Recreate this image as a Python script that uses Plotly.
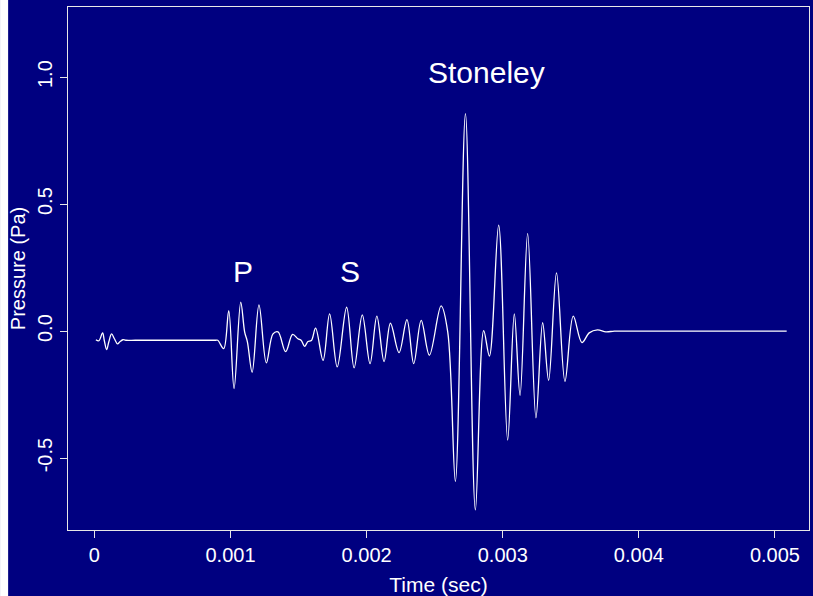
import plotly.graph_objects as go

# Time (milliseconds) and pressure (Pa)
time_ms = [0.011, 0.033, 0.060, 0.073, 0.090, 0.106, 0.126, 0.147, 0.170, 0.187, 0.209, 0.231,
           0.300, 0.500, 0.700, 0.850, 0.890, 0.906, 0.950, 0.987, 1.026, 1.075, 1.104, 1.124,
           1.159, 1.209, 1.263, 1.312, 1.349, 1.405, 1.456, 1.495, 1.520, 1.544, 1.569, 1.594,
           1.625, 1.680, 1.728, 1.784, 1.853, 1.908, 1.968, 2.025, 2.075, 2.128, 2.175, 2.238,
           2.296, 2.346, 2.401, 2.461, 2.547, 2.596, 2.652, 2.726, 2.799, 2.860, 2.902, 2.970,
           3.036, 3.085, 3.127, 3.183, 3.244, 3.293, 3.337, 3.395, 3.457, 3.518, 3.582, 3.635,
           3.696, 3.758, 3.819, 3.900, 4.200, 4.600, 5.086]
pressure = [-0.034, -0.038, -0.007, -0.038, -0.073, -0.042, -0.011, -0.030, -0.050, -0.042, -0.034, -0.036,
            -0.036, -0.036, -0.036, -0.036, -0.036, -0.036, -0.069, 0.081, -0.226, 0.114, -0.004, -0.042,
            -0.162, 0.103, -0.125, -0.011, -0.003, -0.081, -0.013, -0.030, -0.037, -0.060, -0.041, -0.037,
            0.012, -0.115, 0.068, -0.141, 0.094, -0.145, 0.064, -0.128, 0.059, -0.120, 0.031, -0.085,
            0.045, -0.128, 0.042, -0.095, 0.099, -0.004, -0.592, 0.856, -0.704, 0.002, -0.098, 0.417,
            -0.429, 0.068, -0.253, 0.384, -0.341, 0.033, -0.194, 0.229, -0.198, 0.059, -0.045, -0.007,
            0.005, -0.003, 0.000, 0.000, 0.000, 0.000, 0.000]

x_tick_vals = [0, 0.001, 0.002, 0.003, 0.004, 0.005]
x_tick_text = ["0", "0.001", "0.002", "0.003", "0.004", "0.005"]
y_tick_vals = [-0.5, 0.0, 0.5, 1.0]
y_tick_text = ["-0.5", "0.0", "0.5", "1.0"]

wave_labels = ["P", "S", "Stoneley"]
label_time = [0.00109, 0.00188, 0.00288]
label_pressure = [0.236, 0.236, 1.017]
label_size = [30, 30, 30]

time_s = [t / 1000.0 for t in time_ms]

BG = "#000080"
FONT = "Liberation Sans, Arial, Helvetica, sans-serif"

fig = go.Figure()
fig.add_trace(go.Scatter(x=time_s, y=pressure, mode="lines",
                         line=dict(color="white", width=1.3, shape="spline", smoothing=1.0),
                         hoverinfo="skip", showlegend=False))

for lab, tx, py, sz in zip(wave_labels, label_time, label_pressure, label_size):
    fig.add_annotation(x=tx, y=py, text=lab, showarrow=False, xref="x", yref="y",
                       font=dict(color="white", size=sz, family=FONT))

axis_common = dict(showline=True, linecolor="#e8e8e8", linewidth=1, mirror=True,
                   ticks="outside", ticklen=7, tickcolor="#e8e8e8", tickwidth=1,
                   showgrid=False, zeroline=False,
                   tickfont=dict(color="white", size=20, family=FONT))

fig.update_layout(
    width=813, height=596,
    margin=dict(l=68, r=3, t=7, b=64, pad=0),
    paper_bgcolor=BG, plot_bgcolor=BG,
    font=dict(family=FONT, color="white"),
    xaxis=dict(range=[-0.000194, 0.00525], tickvals=x_tick_vals, ticktext=x_tick_text,
               title=dict(text="Time (sec)", font=dict(size=21, color="white", family=FONT), standoff=12),
               **axis_common),
    yaxis=dict(range=[-0.783, 1.276], tickvals=y_tick_vals, ticktext=y_tick_text, tickangle=-90,
               title=dict(text="Pressure (Pa)", font=dict(size=20, color="white", family=FONT), standoff=3),
               **axis_common),
    shapes=[dict(type="rect", xref="paper", yref="paper", x0=-0.0917, x1=-0.0808,
                 y0=-0.2, y1=1.1, fillcolor="white", line=dict(width=0), layer="below")],
)

fig.write_html("out.html", config={"displayModeBar": False},
               post_script="document.body.style.margin='0';")
